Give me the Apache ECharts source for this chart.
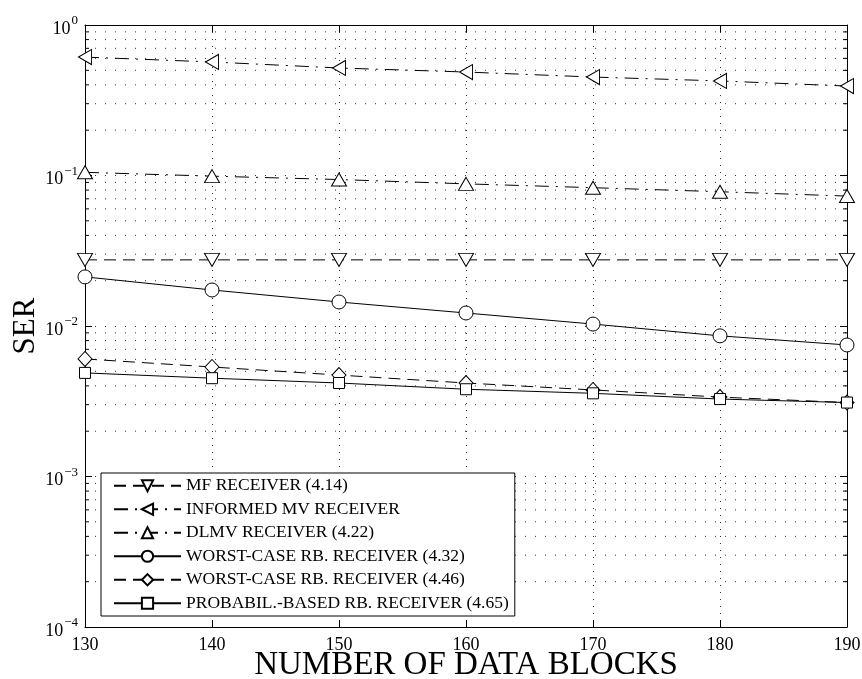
<!DOCTYPE html>
<html>
<head>
<meta charset="utf-8">
<script src="https://cdn.jsdelivr.net/npm/echarts@6/dist/echarts.min.js"></script>
<style>html,body{margin:0;padding:0;background:#fff;}#c{width:862px;height:679px;}</style>
</head>
<body>
<div id="c"></div>
<script>
// ---- data ----
const blocks = [130, 140, 150, 160, 170, 180, 190];
const mfReceiver = [0.0275, 0.0275, 0.0275, 0.0275, 0.0275, 0.0275, 0.0275];
const informedMv = [0.612, 0.568, 0.518, 0.487, 0.451, 0.425, 0.393];
const dlmv = [0.105, 0.099, 0.094, 0.088, 0.083, 0.078, 0.073];
const worstCase432 = [0.0212, 0.01735, 0.01444, 0.0122, 0.0103, 0.0086, 0.00748];
const worstCase446 = [0.00604, 0.00534, 0.00472, 0.00418, 0.00376, 0.00337, 0.0031];
const probBased = [0.00488, 0.0045, 0.00418, 0.0038, 0.00357, 0.00327, 0.0031];
const seriesNames = [
  'MF RECEIVER (4.14)',
  'INFORMED MV RECEIVER',
  'DLMV RECEIVER (4.22)',
  'WORST-CASE RB. RECEIVER (4.32)',
  'WORST-CASE RB. RECEIVER (4.46)',
  'PROBABIL.-BASED RB. RECEIVER (4.65)'
];
const decades = [1e-4, 1e-3, 1e-2, 1e-1];
const minorMultipliers = [2, 3, 4, 5, 6, 7, 8, 9];
const xMin = 130, xMax = 190;

const minorVals = [];
decades.forEach(d => minorMultipliers.forEach(m => minorVals.push(m * d)));

const FONT = 'Liberation Serif';
const chart = echarts.init(document.getElementById('c'), null, {renderer: 'canvas'});

function pair(arr) { return blocks.map((x, i) => [x, arr[i]]); }

const triDown = 'path://M0,0 L10,0 L5,10 Z';
const triLeft = 'path://M0,5 L10,0 L10,10 Z';
const triUp = 'path://M5,0 L10,10 L0,10 Z';
const diamond = 'path://M5,0 L10,5 L5,10 L0,5 Z';

function lineSeries(name, arr, symbol, size, dash) {
  return {
    name: name, type: 'line', data: pair(arr),
    symbol: symbol, symbolSize: size, symbolKeepAspect: false,
    showAllSymbol: true,
    lineStyle: {color: '#000', width: 1, type: dash},
    itemStyle: {color: '#fff', borderColor: '#000', borderWidth: 1},
    emphasis: {disabled: true},
    animation: false, z: 5
  };
}

const dashed = [12, 7];
const dashDot = [14, 7, 2, 7];
const gridH = '#333';

const option = {
  backgroundColor: '#fff',
  animation: false,
  grid: {left: 85, right: 15, top: 25, bottom: 52, containLabel: false, outerBoundsMode: 'none'},
  xAxis: [{
    type: 'value', min: xMin, max: xMax, interval: 10,
    axisLine: {show: true, lineStyle: {color: '#000', width: 1}},
    axisTick: {show: true, inside: true, length: 7, lineStyle: {color: '#000'}},
    axisLabel: {color: '#000', fontFamily: FONT, fontSize: 18, margin: 9},
    splitLine: {show: true, lineStyle: {color: gridH, type: [1, 6], width: 1}},
    name: 'NUMBER OF DATA BLOCKS', nameLocation: 'middle', nameGap: 22, nameMoveOverlap: false,
    nameTextStyle: {color: '#000', fontFamily: FONT, fontSize: 33}
  }, {
    type: 'value', min: xMin, max: xMax, interval: 10, position: 'top',
    axisLine: {show: true, lineStyle: {color: '#000', width: 1}},
    axisTick: {show: true, inside: true, length: 7, lineStyle: {color: '#000'}},
    axisLabel: {show: false}, splitLine: {show: false}
  }],
  yAxis: [{
    type: 'log', logBase: 10, min: 1e-4, max: 1,
    axisLine: {show: true, lineStyle: {color: '#000', width: 1}},
    axisTick: {show: true, inside: true, length: 7, lineStyle: {color: '#000'}},
    axisLabel: {
      color: '#000', margin: 7,
      formatter: function (v) {
        const e = Math.round(Math.log10(v));
        return '{b|10}{s|' + (e < 0 ? '\u2212' + (-e) : e) + '}';
      },
      rich: {
        b: {fontFamily: FONT, fontSize: 18, color: '#000', padding: [8, 0, 0, 0]},
        s: {fontFamily: FONT, fontSize: 13, color: '#000', padding: [0, 0, 8, 1]}
      }
    },
    splitLine: {show: true, lineStyle: {color: gridH, type: [1, 9], width: 1}},
    name: 'SER', nameLocation: 'middle', nameGap: 44, nameRotate: 90, nameMoveOverlap: false,
    nameTextStyle: {color: '#000', fontFamily: FONT, fontSize: 31}
  }, {
    type: 'log', logBase: 10, min: 1e-4, max: 1, position: 'right',
    axisLine: {show: true, lineStyle: {color: '#000', width: 1}},
    axisTick: {show: true, inside: true, length: 7, lineStyle: {color: '#000'}},
    axisLabel: {show: false}, splitLine: {show: false}
  }],
  legend: {
    orient: 'vertical', left: 101, top: 473,
    data: seriesNames,
    backgroundColor: '#fff', borderColor: '#000', borderWidth: 1,
    padding: [1, 6, 1, 12], itemGap: 0, itemWidth: 67, itemHeight: 14,
    textStyle: {fontFamily: FONT, fontSize: 17.5, color: '#000', lineHeight: 23.5},
    selectedMode: false, z: 20
  },
  series: [
    {
      type: 'custom', name: 'minor', data: minorVals.map(v => [xMin, v]), z: 1, silent: true,
      renderItem: function (params, api) {
        const v = api.value(1);
        const p0 = api.coord([xMin, v]);
        const p1 = api.coord([xMax, v]);
        return {type: 'group', children: [
          {type: 'line', shape: {x1: p0[0], y1: p0[1], x2: p1[0], y2: p1[1]}, style: {stroke: gridH, lineDash: [1, 9], lineWidth: 1}},
          {type: 'line', shape: {x1: p0[0], y1: p0[1], x2: p0[0] + 4, y2: p0[1]}, style: {stroke: '#000', lineWidth: 1}},
          {type: 'line', shape: {x1: p1[0] - 4, y1: p1[1], x2: p1[0], y2: p1[1]}, style: {stroke: '#000', lineWidth: 1}}
        ]};
      }
    },
    lineSeries(seriesNames[0], mfReceiver, triDown, [15, 13], dashed),
    lineSeries(seriesNames[1], informedMv, triLeft, [13, 15], dashDot),
    lineSeries(seriesNames[2], dlmv, triUp, [15, 13], dashDot),
    lineSeries(seriesNames[3], worstCase432, 'circle', 14, 'solid'),
    lineSeries(seriesNames[4], worstCase446, diamond, [14, 15], dashed),
    lineSeries(seriesNames[5], probBased, 'rect', 11, 'solid')
  ]
};
chart.setOption(option);
</script>
</body>
</html>
